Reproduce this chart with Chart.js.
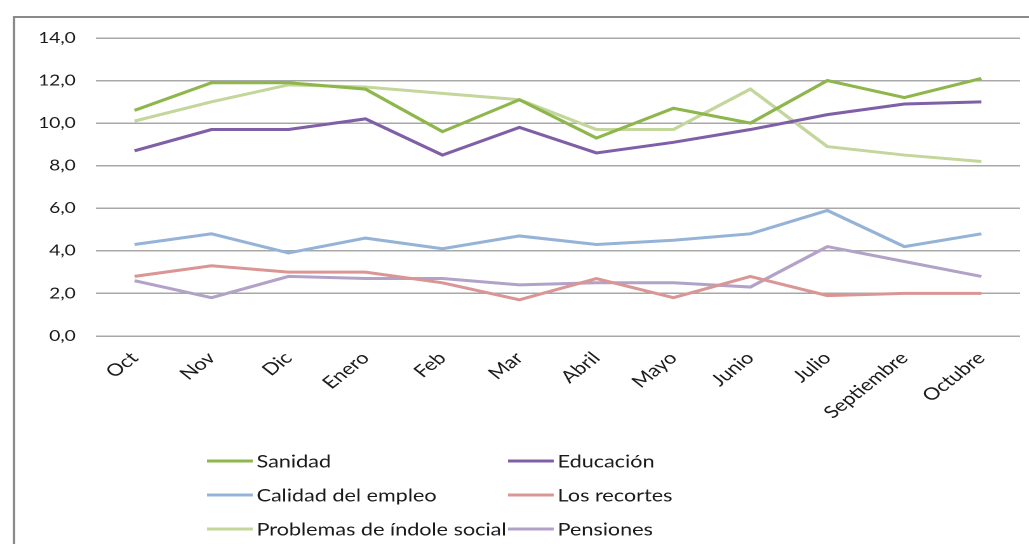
<!DOCTYPE html>
<html>
<head>
<meta charset="utf-8">
<script src="https://cdn.jsdelivr.net/npm/chart.js@4/dist/chart.umd.min.js"></script>
<style>
  html, body { margin: 0; padding: 0; background: #fff; overflow: hidden; }
  #wrap { position: relative; width: 1029px; height: 544px; overflow: hidden; }
  /* the original picture is stretched sideways; draw narrow and widen it */
  #chart { transform: scaleX(1.27); transform-origin: 0 0; }
</style>
</head>
<body>
<div id="wrap"><canvas id="chart" width="810" height="544"></canvas></div>
<script>
// months on the x axis
const months = ["Oct", "Nov", "Dic", "Enero", "Feb", "Mar", "Abril", "Mayo", "Junio", "Julio", "Septiembre", "Octubre"];

// series values (percent)
const sanidad = [10.6, 11.9, 11.9, 11.6, 9.6, 11.1, 9.3, 10.7, 10.0, 12.0, 11.2, 12.1];
const educacion = [8.7, 9.7, 9.7, 10.2, 8.5, 9.8, 8.6, 9.1, 9.7, 10.4, 10.9, 11.0];
const calidadEmpleo = [4.3, 4.8, 3.9, 4.6, 4.1, 4.7, 4.3, 4.5, 4.8, 5.9, 4.2, 4.8];
const recortes = [2.8, 3.3, 3.0, 3.0, 2.5, 1.7, 2.7, 1.8, 2.8, 1.9, 2.0, 2.0];
const indoleSocial = [10.1, 11.0, 11.8, 11.7, 11.4, 11.1, 9.7, 9.7, 11.6, 8.9, 8.5, 8.2];
const pensiones = [2.6, 1.8, 2.8, 2.7, 2.7, 2.4, 2.5, 2.5, 2.3, 4.2, 3.5, 2.8];

const yTicks = [0, 2, 4, 6, 8, 10, 12, 14];

const FONT = "Lato, 'Open Sans', sans-serif";
const TEXT_COLOR = "#1a1a1a";
const GRID_COLOR = "#a8a8a8";

function series(label, data, color) {
  return {
    label,
    data,
    borderColor: color,
    backgroundColor: color,
    borderWidth: 3,
    pointRadius: 0,
    tension: 0,
    fill: false,
  };
}

// outer frame like the original chart box (runs off right and bottom)
const framePlugin = {
  id: "frame",
  beforeDraw(chart) {
    const ctx = chart.ctx;
    ctx.save();
    ctx.strokeStyle = "#8a8a8a";
    ctx.lineWidth = 2;
    ctx.beginPath();
    ctx.moveTo(11, 560);
    ctx.lineTo(11, 17);
    ctx.lineTo(830, 17);
    ctx.stroke();
    ctx.restore();
  },
};

// two-column legend under the axis labels
const legendPlugin = {
  id: "twoColLegend",
  afterDraw(chart) {
    const ctx = chart.ctx;
    const cols = [163, 400];
    const rows = [461, 495, 529];
    ctx.save();
    ctx.font = "17px " + FONT;
    ctx.textBaseline = "middle";
    ctx.textAlign = "left";
    chart.data.datasets.forEach((ds, i) => {
      const x = cols[i % 2];
      const y = rows[Math.floor(i / 2)];
      ctx.strokeStyle = ds.borderColor;
      ctx.lineWidth = 3;
      ctx.beginPath();
      ctx.moveTo(x, y);
      ctx.lineTo(x + 36, y);
      ctx.stroke();
      ctx.fillStyle = TEXT_COLOR;
      ctx.fillText(ds.label, x + 39, y + 1);
    });
    ctx.restore();
  },
};

new Chart(document.getElementById("chart"), {
  type: "line",
  data: {
    labels: months,
    datasets: [
      series("Sanidad", sanidad, "#8db64b"),
      series("Educación", educacion, "#7f5fa6"),
      series("Calidad del empleo", calidadEmpleo, "#95b3d7"),
      series("Los recortes", recortes, "#d99694"),
      series("Problemas de índole social", indoleSocial, "#c3d69b"),
      series("Pensiones", pensiones, "#b3a2c7"),
    ],
  },
  plugins: [framePlugin, legendPlugin],
  options: {
    responsive: false,
    animation: false,
    devicePixelRatio: 2,
    layout: { padding: { left: 0, right: 7, top: 38, bottom: 0 } },
    plugins: {
      legend: { display: false },
      tooltip: { enabled: false },
    },
    scales: {
      x: {
        offset: true,
        grid: { display: false },
        border: { display: false },
        ticks: {
          color: TEXT_COLOR,
          font: { family: FONT, size: 17 },
          minRotation: 45,
          maxRotation: 45,
          padding: 4,
          autoSkip: false,
        },
        afterFit(scale) { scale.height = 208; },
      },
      y: {
        min: 0,
        max: 14,
        afterBuildTicks(scale) { scale.ticks = yTicks.map((v) => ({ value: v })); },
        grid: { color: GRID_COLOR, lineWidth: 1.5, drawTicks: false },
        border: { display: false },
        ticks: {
          color: TEXT_COLOR,
          font: { family: FONT, size: 15 },
          padding: 16,
          callback: (v) => v.toFixed(1).replace(".", ","),
        },
        afterFit(scale) { scale.width = 75.6; },
      },
    },
  },
});
</script>
</body>
</html>
